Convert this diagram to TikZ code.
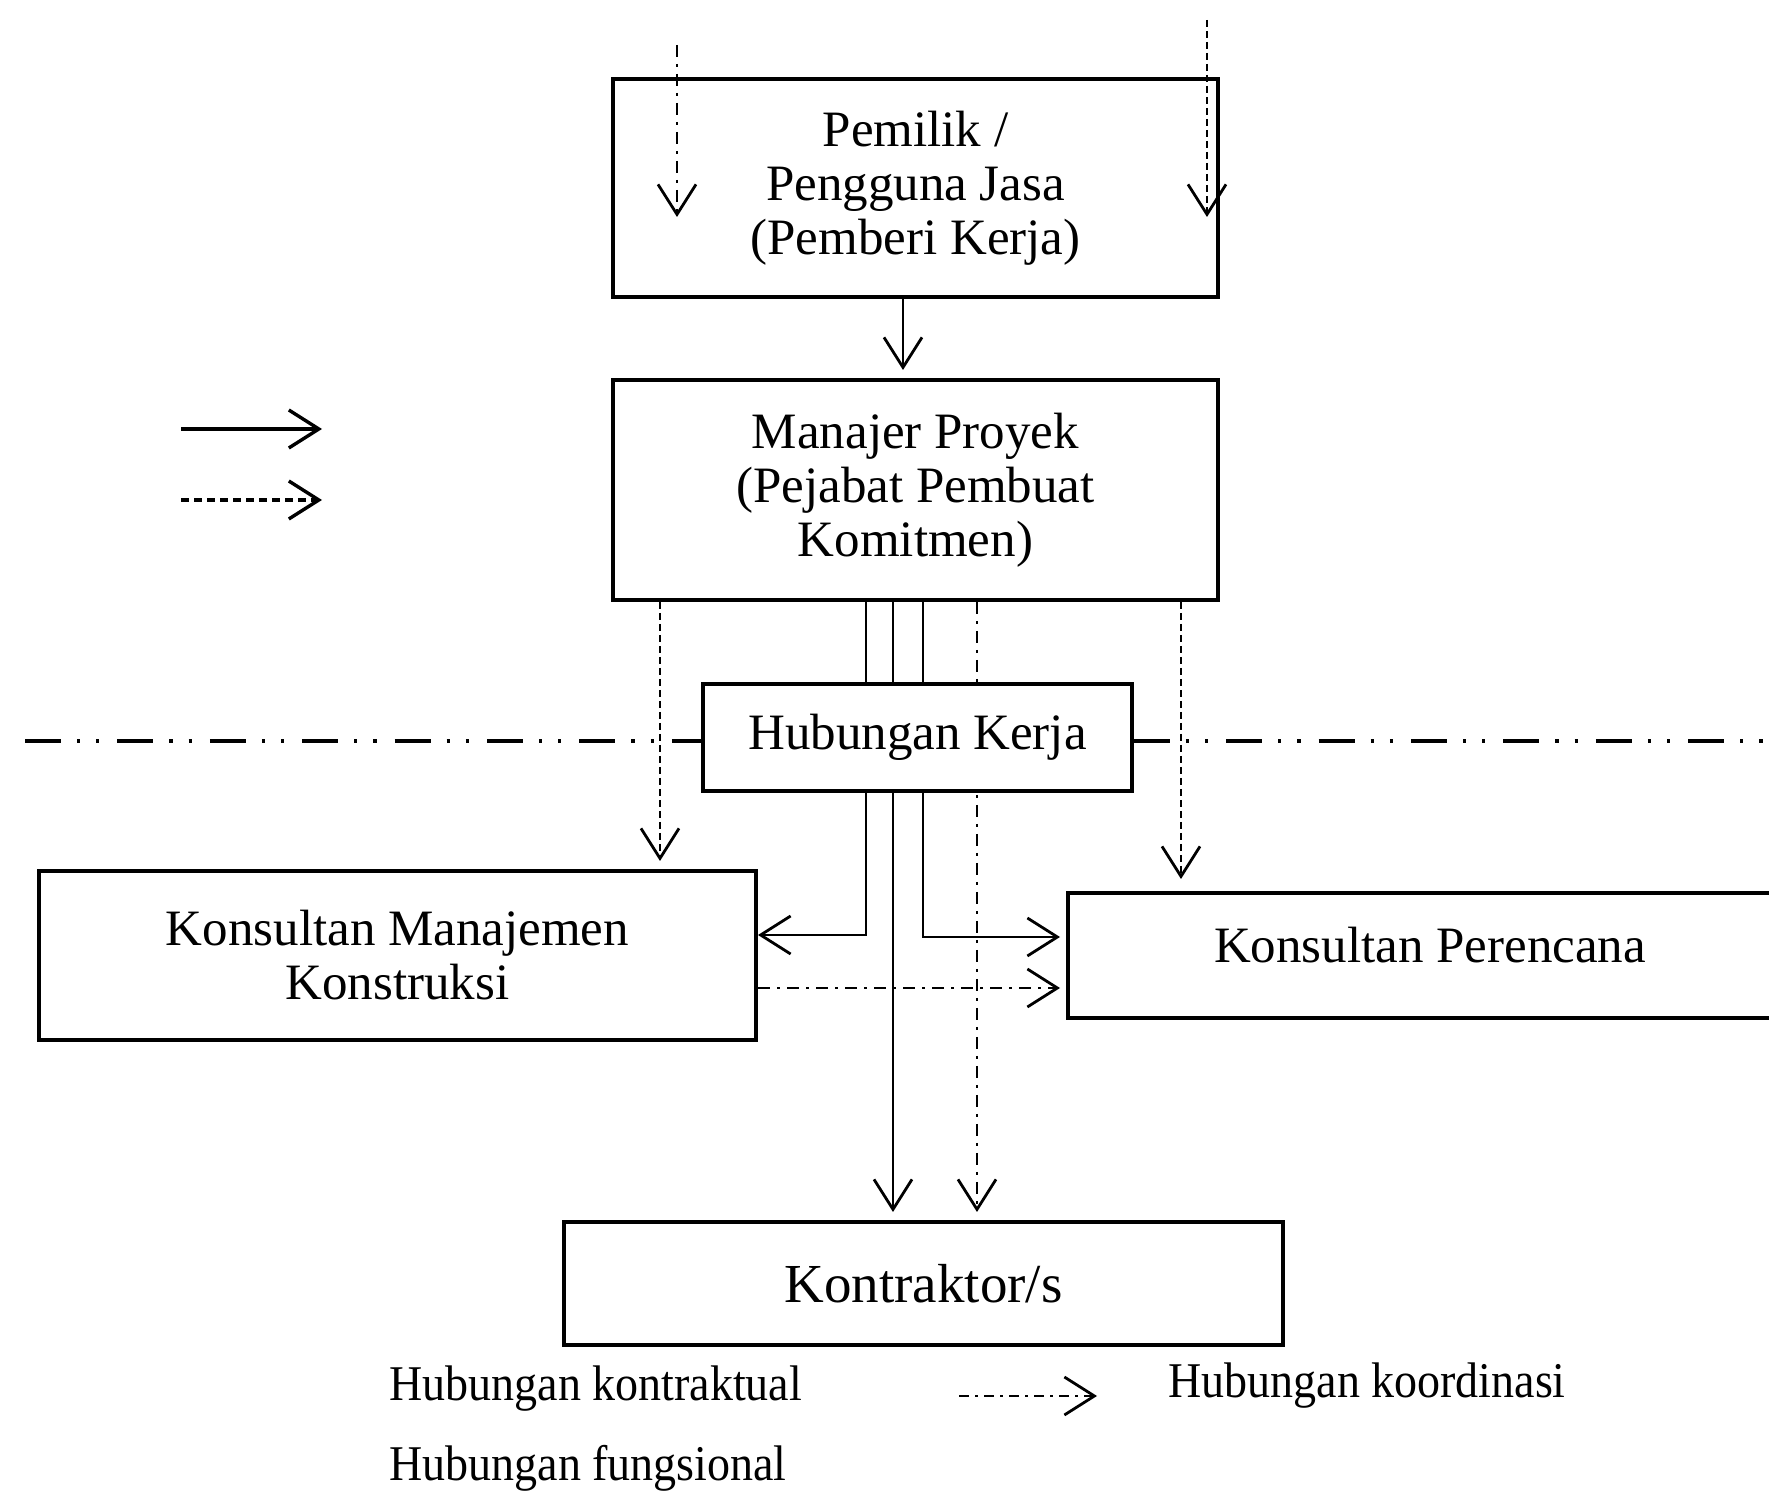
\documentclass[tikz,border=0pt]{standalone}
\usepackage{fontspec}
\setmainfont{Liberation Serif}
\newfontfamily\legfont[FakeStretch=0.92]{Liberation Serif}
\usetikzlibrary{arrows.meta}
\pgfdeclarelayer{bg}
\pgfsetlayers{bg,main}
\begin{document}
\begin{tikzpicture}[x=0.5pt,y=-0.5pt,
  box/.style={draw,line width=2pt,fill=white,inner sep=0pt,align=center,font=\fontsize{25.5}{27}\selectfont},
  tip/.style={-{Straight Barb[length=15pt,width=19pt]}},
  ln/.style={line width=1.4pt},
  dsh/.style={ln,dash pattern=on 3.5pt off 2pt},
  dd/.style={ln,dash pattern=on 6pt off 3.5pt on 1.5pt off 3.5pt},
  ddd/.style={line width=2.4pt,dash pattern=on 18pt off 8pt on 1.6pt off 8pt on 1.6pt off 9pt},
  lab/.style={font=\legfont\fontsize{25}{27}\selectfont,anchor=base west,inner sep=0pt}
]
\useasboundingbox (0,0) rectangle (1769,1491);
\clip (0,0) rectangle (1769,1491);

% boxes
\node[box,minimum width=302.5pt,minimum height=109pt] (pem) at (915.5,188) {Pemilik /\\Pengguna Jasa\\(Pemberi Kerja)};
\node[box,minimum width=302.5pt,minimum height=110pt] (man) at (915.5,490) {Manajer Proyek\\(Pejabat Pembuat\\Komitmen)};
\node[box,minimum width=214.5pt,minimum height=53.5pt] (hub) at (917.5,737.5) {Hubungan Kerja};
\node[box,minimum width=358.5pt,minimum height=84.5pt] (mk) at (397.5,955.5) {Konsultan Manajemen\\Konstruksi};
\node[box,minimum width=362pt,minimum height=62.5pt] (kp) at (1430,955.5) {};
\node[font=\fontsize{25.5}{27}\selectfont,inner sep=0pt] (kpt) at (1430,945) {Konsultan Perencana};
\node[box,minimum width=359.5pt,minimum height=61.5pt,font=\fontsize{27.5}{30}\selectfont] (kon) at (923.5,1283.5) {Kontraktor/s};

% legend texts
\node[lab] (l1) at (389,1400) {Hubungan kontraktual};
\node[lab] (l2) at (389,1480) {Hubungan fungsional};
\node[lab] (l3) at (1168,1397) {Hubungan koordinasi};

% helper coordinates
\coordinate (c0) at (903,0);
\coordinate (c1) at (866,0);
\coordinate (c2) at (893,0);
\coordinate (c3) at (923,0);
\coordinate (c4) at (977,0);
\coordinate (c5) at (660,0);
\coordinate (c6) at (1181,0);
\coordinate (ymk) at (0,935);
\coordinate (ykp) at (0,937);
\coordinate (ycd) at (0,988);
\coordinate (hl) at (25,741);
\coordinate (hr) at (1769,741);
\coordinate (t1a) at (677,45);
\coordinate (t1b) at (677,217);
\coordinate (t2a) at (1207,20);
\coordinate (t2b) at (1207,217);
\coordinate (la1) at (181,429);
\coordinate (lb1) at (322,429);
\coordinate (la2) at (181,500);
\coordinate (lb2) at (322,500);
\coordinate (la3) at (959,1396);
\coordinate (lb3) at (1097,1396);

% top free arrows (drawn over the Pemilik box)
\draw[dd,tip] (t1a) -- (t1b);
\draw[dsh,tip] (t2a) -- (t2b);

\begin{pgfonlayer}{bg}
\draw[ddd] (hl) -- (hr);
% Pemilik -> Manajer
\draw[ln,tip,shorten >=4pt] (pem.south -| c0) -- (man.north -| c0);
% Manajer -> MK (functional)
\draw[ln,tip] (man.south -| c1) -- (c1 |- ymk) -- (mk.east |- ymk);
% Manajer -> Perencana
\draw[ln,tip,shorten >=3pt] (man.south -| c3) -- (c3 |- ykp) -- (kp.west |- ykp);
% Manajer -> Kontraktor
\draw[ln,tip,shorten >=4pt] (man.south -| c2) -- (kon.north -| c2);
\draw[dd,tip,shorten >=4pt] (man.south -| c4) -- (kon.north -| c4);
% dashed to consultants
\draw[dsh,tip,shorten >=4pt] (man.south -| c5) -- (mk.north -| c5);
\draw[dsh,tip,shorten >=6pt] (man.south -| c6) -- (kp.north -| c6);
% coordination MK -> Perencana
\draw[dd,tip,shorten >=3pt] (mk.east |- ycd) -- (kp.west |- ycd);
% legend arrows
\draw[line width=1.7pt,tip] (la1) -- (lb1);
\draw[line width=1.7pt,dash pattern=on 4pt off 2.5pt,tip] (la2) -- (lb2);
\draw[ln,dash pattern=on 5pt off 3pt on 1.5pt off 3pt,tip] (la3) -- (lb3);
\end{pgfonlayer}
\end{tikzpicture}
\end{document}
